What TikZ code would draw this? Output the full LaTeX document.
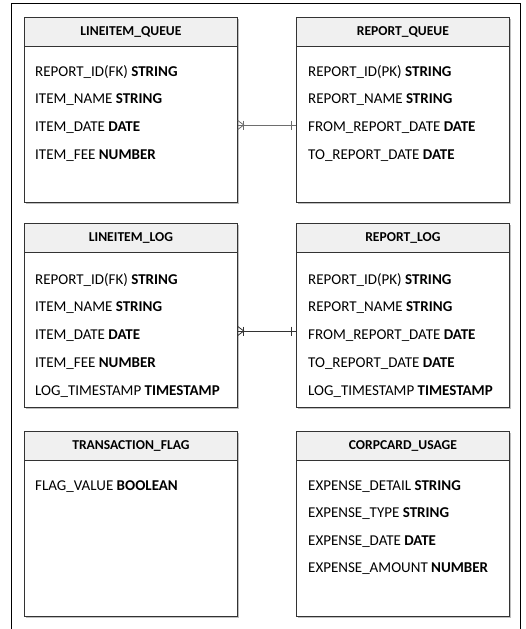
\documentclass[tikz,border=0pt]{standalone}
\usepackage{fontspec}
\setmainfont{Carlito}
\usetikzlibrary{calc,shadows}
\definecolor{hdr}{HTML}{F0F0F0}
\definecolor{edgec}{HTML}{333333}
\definecolor{lnk}{HTML}{6E6E6E}
\begin{document}
\begin{tikzpicture}[x=1pt,y=-1pt,
  tbl/.style={draw=edgec, line width=0.8pt, fill=white, minimum width=213pt, minimum height=185pt, anchor=north west, inner sep=0pt,
    drop shadow={shadow xshift=1.2pt, shadow yshift=-1.2pt, fill=black!25, opacity=1}},
  hdrbox/.style={draw=edgec, line width=0.8pt, fill=hdr, minimum width=213pt, minimum height=29pt, anchor=north west, inner sep=0pt,
    font=\fontsize{13.6}{16}\selectfont\bfseries},
  fld/.style={anchor=west, inner sep=0pt, font=\fontsize{15}{18}\selectfont},
  rel/.style={line width=0.8pt},
]
\useasboundingbox (0,0) rectangle (525,629);
% outer frame
\coordinate (f1) at (11,629);
\coordinate (f2) at (11,3);
\coordinate (f3) at (520,3);
\coordinate (f4) at (520,629);
\draw[line width=0.9pt, black] (f1) -- (f2) -- (f3) -- (f4);

% ---- row 1
\node[tbl] (lq) at (24,17) {};
\node[hdrbox] (lqh) at (24,17) {LINEITEM\_QUEUE};
\node[fld] (lq1) at (35,72) {REPORT\_ID(FK) \textbf{STRING}};
\node[fld] (lq2) at (35,100) {ITEM\_NAME \textbf{STRING}};
\node[fld] (lq3) at (35,128) {ITEM\_DATE \textbf{DATE}};
\node[fld] (lq4) at (35,156) {ITEM\_FEE \textbf{NUMBER}};

\node[tbl] (rq) at (296,17) {};
\node[hdrbox] (rqh) at (296,17) {REPORT\_QUEUE};
\node[fld] (rq1) at (308,72) {REPORT\_ID(PK) \textbf{STRING}};
\node[fld] (rq2) at (308,100) {REPORT\_NAME \textbf{STRING}};
\node[fld] (rq3) at (308,128) {FROM\_REPORT\_DATE \textbf{DATE}};
\node[fld] (rq4) at (308,156) {TO\_REPORT\_DATE \textbf{DATE}};

% ---- row 2
\node[tbl, minimum height=184pt] (ll) at (24,223) {};
\node[hdrbox] (llh) at (24,223) {LINEITEM\_LOG};
\node[fld] (ll1) at (35,280) {REPORT\_ID(FK) \textbf{STRING}};
\node[fld] (ll2) at (35,308) {ITEM\_NAME \textbf{STRING}};
\node[fld] (ll3) at (35,336) {ITEM\_DATE \textbf{DATE}};
\node[fld] (ll4) at (35,364) {ITEM\_FEE \textbf{NUMBER}};
\node[fld] (ll5) at (35,392) {LOG\_TIMESTAMP \textbf{TIMESTAMP}};

\node[tbl, minimum height=184pt] (rl) at (296,223) {};
\node[hdrbox] (rlh) at (296,223) {REPORT\_LOG};
\node[fld] (rl1) at (308,280) {REPORT\_ID(PK) \textbf{STRING}};
\node[fld] (rl2) at (308,308) {REPORT\_NAME \textbf{STRING}};
\node[fld] (rl3) at (308,336) {FROM\_REPORT\_DATE \textbf{DATE}};
\node[fld] (rl4) at (308,364) {TO\_REPORT\_DATE \textbf{DATE}};
\node[fld] (rl5) at (308,392) {LOG\_TIMESTAMP \textbf{TIMESTAMP}};

% ---- row 3
\node[tbl] (tf) at (24,431) {};
\node[hdrbox] (tfh) at (24,431) {TRANSACTION\_FLAG};
\node[fld] (tf1) at (35,487) {FLAG\_VALUE \textbf{BOOLEAN}};

\node[tbl] (cc) at (296,431) {};
\node[hdrbox] (cch) at (296,431) {CORPCARD\_USAGE};
\node[fld] (cc1) at (308,487) {EXPENSE\_DETAIL \textbf{STRING}};
\node[fld] (cc2) at (308,514) {EXPENSE\_TYPE \textbf{STRING}};
\node[fld] (cc3) at (308,542) {EXPENSE\_DATE \textbf{DATE}};
\node[fld] (cc4) at (308,569) {EXPENSE\_AMOUNT \textbf{NUMBER}};

% ---- relationships
\coordinate (a1) at (lq.east |- 0,125);
\coordinate (b1) at (rq.west |- 0,125);
\draw[rel, lnk] (a1) -- (b1);
\draw[rel, lnk] ($(a1)+(0,-4.5)$) -- ($(a1)+(6,0)$) -- ($(a1)+(0,4.5)$);
\draw[rel, lnk] ($(a1)+(6,-4.5)$) -- ($(a1)+(6,4.5)$);
\draw[rel, lnk] ($(b1)+(-5,-4.5)$) -- ($(b1)+(-5,4.5)$);

\coordinate (a2) at (ll.east |- 0,331);
\coordinate (b2) at (rl.west |- 0,331);
\draw[rel, edgec] (a2) -- (b2);
\draw[rel, edgec] ($(a2)+(0,-4.5)$) -- ($(a2)+(6,0)$) -- ($(a2)+(0,4.5)$);
\draw[rel, edgec] ($(a2)+(6,-4.5)$) -- ($(a2)+(6,4.5)$);
\draw[rel, edgec] ($(b2)+(-5,-4.5)$) -- ($(b2)+(-5,4.5)$);
\end{tikzpicture}
\end{document}
